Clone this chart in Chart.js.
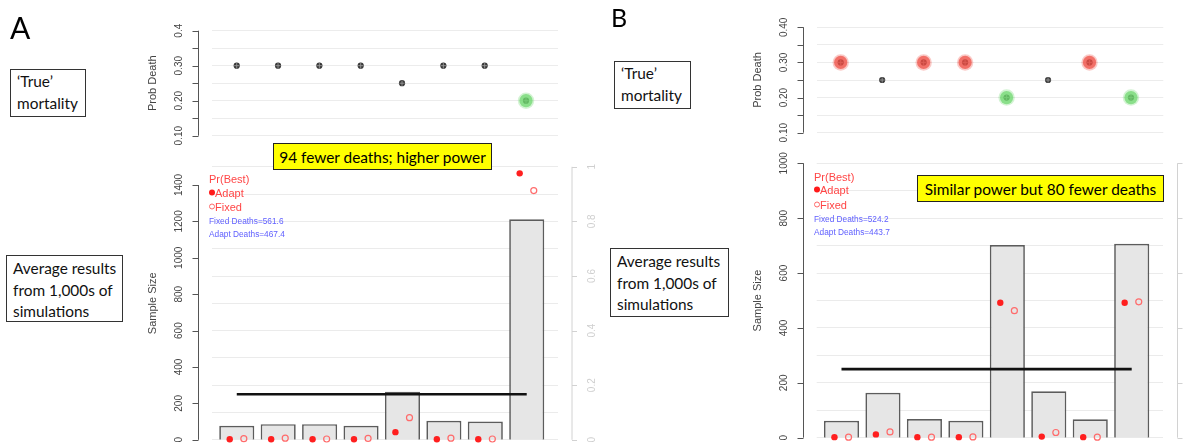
<!DOCTYPE html>
<html>
<head>
<meta charset="utf-8">
<script src="https://cdn.jsdelivr.net/npm/chart.js@4.4.1/dist/chart.umd.min.js"></script>
<style>
html,body{margin:0;padding:0;background:#fff;}
#wrap{position:relative;width:1192px;height:445px;overflow:hidden;background:#fff;}
#wrap canvas{position:absolute;left:0;top:0;}
.box{position:absolute;box-sizing:border-box;border:1px solid #333;background:#fff;font-family:Lato,'Open Sans',sans-serif;font-size:15.4px;line-height:21.7px;color:#111;padding:1px 0 0 6px;white-space:nowrap;z-index:5;}
.note{position:absolute;box-sizing:border-box;border:1px solid #222;background:#ffff00;font-family:Lato,'Open Sans',sans-serif;font-size:15.4px;color:#000;display:flex;align-items:center;justify-content:center;white-space:nowrap;z-index:5;}
.leg{position:absolute;white-space:nowrap;font-family:'Liberation Sans',Arial,sans-serif;transform:translateY(-50%);line-height:1;z-index:5;}
.pb{color:#ff4646;font-size:11px;}
.dths{color:#6060ff;font-size:8.3px;}
.dot{display:inline-block;width:6px;height:6px;border-radius:50%;background:#ff1a1a;vertical-align:middle;position:relative;top:-1px;}
.odot{display:inline-block;box-sizing:border-box;width:6px;height:6px;border-radius:50%;border:1px solid #ff6a6a;vertical-align:middle;position:relative;top:-1px;}
.panel{position:absolute;font-family:Lato,'Open Sans',sans-serif;color:#000;line-height:1;z-index:5;}
</style>
</head>
<body>
<div id="wrap">
  <canvas id="cAtop" width="1192" height="445"></canvas>
  <canvas id="cAbot" width="1192" height="445"></canvas>
  <canvas id="cBtop" width="1192" height="445"></canvas>
  <canvas id="cBbot" width="1192" height="445"></canvas>
</div>
<script>
// ---------------- data ----------------
const arms = [1, 2, 3, 4, 5, 6, 7, 8];
const probDeathA = [0.30, 0.30, 0.30, 0.30, 0.25, 0.30, 0.30, 0.20];
const highlightA = ['', '', '', '', '', '', '', 'best'];
const probDeathB = [0.30, 0.25, 0.30, 0.30, 0.20, 0.25, 0.30, 0.20];
const highlightB = ['worst', '', 'worst', 'worst', 'best', '', 'worst', 'best'];
const sampleSizeA = [77, 86, 86, 77, 264, 104, 100, 1212];
const sampleSizeB = [62, 164, 68, 62, 702, 169, 67, 707];
const prBestAdaptA = [0.002, 0.002, 0.002, 0.002, 0.028, 0.002, 0.002, 0.976];
const prBestFixedA = [0.004, 0.006, 0.003, 0.005, 0.081, 0.006, 0.003, 0.913];
const prBestAdaptB = [0.002, 0.012, 0.002, 0.002, 0.492, 0.004, 0.002, 0.492];
const prBestFixedB = [0.002, 0.021, 0.002, 0.003, 0.463, 0.019, 0.002, 0.495];
const fixedSampleSize = [250, 250];
const fixedDeaths = [561.6, 524.2];
const adaptDeaths = [467.4, 443.7];
const probTicks = [0.10, 0.15, 0.20, 0.25, 0.30, 0.35, 0.40];
const probLabelsA = ['0.10', '', '0.20', '', '0.30', '', '0.4'];
const probLabelsB = ['0.10', '', '0.20', '', '0.30', '', '0.40'];
const sampleTicksA = [0, 200, 400, 600, 800, 1000, 1200, 1400];
const sampleTicksB = [0, 200, 400, 600, 800, 1000];
const sampleMax = [1500, 1000];
const prTicks = [0, 0.2, 0.4, 0.6, 0.8, 1];
const prLabels = ['0', '0.2', '0.4', '0.6', '0.8', '1'];
const notes = ['94 fewer deaths; higher power', 'Similar power but 80 fewer deaths'];
const panelLabels = ['A', 'B'];
const boxTrue = ['\u2018True\u2019', 'mortality'];
const boxAvg = ['Average results', 'from 1,000s of', 'simulations'];

// ---------------- helpers ----------------
const W = 1192, H = 445;
function pts(vals, dx) { return vals.map((v, i) => ({ x: arms[i] + (dx || 0), y: v })); }

function rAxesPlugin(specs) {
  return {
    id: 'rAxesLocal',
    afterDraw(chart) {
      const ctx = chart.ctx;
      specs.forEach(a => {
        const s = chart.scales[a.scale];
        const dir = a.side === 'left' ? -1 : 1;
        ctx.save();
        ctx.strokeStyle = a.color;
        ctx.lineWidth = 1;
        ctx.beginPath();
        const yA = s.getPixelForValue(a.ticks[0]);
        const yB = s.getPixelForValue(a.ticks[a.ticks.length - 1]);
        ctx.moveTo(a.x, yA); ctx.lineTo(a.x, yB);
        a.ticks.forEach(v => {
          const py = Math.round(s.getPixelForValue(v)) + 0.5;
          ctx.moveTo(a.x, py); ctx.lineTo(a.x + dir * a.tickLen, py);
        });
        ctx.stroke();
        ctx.fillStyle = a.labelColor;
        ctx.font = a.font;
        ctx.textAlign = 'center';
        ctx.textBaseline = 'middle';
        a.ticks.forEach((v, i) => {
          const lab = a.labels[i];
          if (!lab) return;
          const py = s.getPixelForValue(v);
          ctx.save();
          ctx.translate(a.x + dir * a.labelOffset, py);
          ctx.rotate(-Math.PI / 2);
          ctx.fillText(lab, 0, 0);
          ctx.restore();
        });
        if (a.title) {
          const ca = chart.chartArea;
          ctx.save();
          ctx.font = a.titleFont;
          ctx.fillStyle = a.labelColor;
          ctx.translate(a.x + dir * a.titleOffset, (ca.top + ca.bottom) / 2);
          ctx.rotate(-Math.PI / 2);
          ctx.fillText(a.title, 0, 0);
          ctx.restore();
        }
        ctx.restore();
      });
    }
  };
}

const baseOpts = (pad) => ({
  responsive: false, animation: false, devicePixelRatio: 1, events: [],
  layout: { padding: pad },
  plugins: { legend: { display: false }, tooltip: { enabled: false } }
});

const hlColor = { best: [110, 215, 110], worst: [238, 78, 68] };
function hlc(hl, alpha) {
  return c => { const k = hl[c.dataIndex]; return k ? `rgba(${hlColor[k].join(',')},${alpha})` : 'rgba(0,0,0,0)'; };
}

function topChart(id, probs, hl, xr, pad, axisX, labels) {
  const o = baseOpts(pad);
  o.scales = {
    x: { type: 'linear', min: xr[0], max: xr[1], display: false },
    y: { type: 'linear', min: probTicks[0], max: probTicks[probTicks.length - 1],
         ticks: { display: false, stepSize: 0.05 }, border: { display: false },
         grid: { color: '#ececec', lineWidth: 1, drawTicks: false },
         afterFit(s) { s.width = 0; } }
  };
  return new Chart(document.getElementById(id), {
    type: 'scatter',
    data: { datasets: [
      { data: pts(probs), order: 0, clip: false, pointBorderWidth: 0,
        pointRadius: c => hl[c.dataIndex] ? 6.6 : 0, pointBackgroundColor: hlc(hl, 0.72) },
      { data: pts(probs), order: 1, clip: false, pointBorderWidth: 0,
        pointRadius: c => hl[c.dataIndex] ? 8.2 : 0, pointBackgroundColor: hlc(hl, 0.3) },
      { data: pts(probs), order: 2, pointStyle: 'cross', pointRadius: 2.6,
        pointBorderColor: '#9a9a9a', pointBorderWidth: 0.9 },
      { data: pts(probs), order: 3, pointRadius: 3.1, pointBackgroundColor: '#383838', pointBorderWidth: 0 }
    ] },
    options: o,
    plugins: [rAxesPlugin([
      { scale: 'y', x: axisX, side: 'left', ticks: probTicks, labels: labels, color: '#555',
        labelColor: '#444', tickLen: 6, labelOffset: 19, font: '10px "Liberation Sans", Arial, sans-serif',
        title: 'Prob Death', titleOffset: 46, titleFont: '11px "Liberation Sans", Arial, sans-serif' }
    ])]
  });
}

function bottomChart(id, sizes, adapt, fixed, target, ymax, xr, pad, axisX, rightX, sTicks) {
  const o = baseOpts(pad);
  o.scales = {
    x: { type: 'linear', min: xr[0], max: xr[1], display: false, offset: false },
    y: { type: 'linear', min: 0, max: ymax, display: false },
    y2: { type: 'linear', position: 'right', min: 0, max: 1,
          ticks: { display: false, stepSize: 0.1 }, border: { display: false },
          grid: { color: '#ebebeb', lineWidth: 1, drawTicks: false },
          afterFit(s) { s.width = 0; } }
  };
  return new Chart(document.getElementById(id), {
    type: 'bar',
    data: { datasets: [
      { type: 'scatter', data: pts(adapt, -0.17), yAxisID: 'y2', order: 0, clip: false,
        pointRadius: 3.2, pointBackgroundColor: '#ff1f1f', pointBorderWidth: 0 },
      { type: 'scatter', data: pts(fixed, 0.17), yAxisID: 'y2', order: 0, clip: false,
        pointRadius: 3.0, pointBackgroundColor: 'rgba(0,0,0,0)', pointBorderColor: '#ff6b6b', pointBorderWidth: 1.2 },
      { type: 'line', data: [{ x: arms[0], y: target }, { x: arms[arms.length - 1], y: target }],
        yAxisID: 'y', order: 1, borderColor: '#111', borderWidth: 2.6, pointRadius: 0 },
      { type: 'bar', data: pts(sizes), yAxisID: 'y', order: 2, backgroundColor: '#e6e6e6',
        borderColor: '#5c5c5c', borderWidth: 1.7, barPercentage: 0.847, categoryPercentage: 1 }
    ] },
    options: o,
    plugins: [rAxesPlugin([
      { scale: 'y', x: axisX, side: 'left', ticks: sTicks, labels: sTicks.map(String), color: '#555',
        labelColor: '#444', tickLen: 6, labelOffset: 19, font: '10px "Liberation Sans", Arial, sans-serif',
        title: 'Sample Size', titleOffset: 46, titleFont: '11px "Liberation Sans", Arial, sans-serif' },
      { scale: 'y2', x: rightX, side: 'right', ticks: prTicks, labels: prLabels, color: '#d2d2d2',
        labelColor: '#cfcfcf', tickLen: 5, labelOffset: 20, font: '10px "Liberation Sans", Arial, sans-serif' }
    ])]
  });
}

// ---------------- charts ----------------
topChart('cAtop', probDeathA, highlightA, [0.402, 8.774],
  { left: 212, right: W - 558, top: 30.7, bottom: H - 135.7 }, 198.5, probLabelsA);
bottomChart('cAbot', sampleSizeA, prBestAdaptA, prBestFixedA, fixedSampleSize[0], sampleMax[0], [0.402, 8.755],
  { left: 212, right: W - 558, top: 166.8, bottom: H - 440 }, 198.5, 572, sampleTicksA);
topChart('cBtop', probDeathB, highlightB, [0.421, 8.779],
  { left: 816.7, right: W - 1163.3, top: 27.3, bottom: H - 132.7 }, 803.5, probLabelsB);
bottomChart('cBbot', sampleSizeB, prBestAdaptB, prBestFixedB, fixedSampleSize[1], sampleMax[1], [0.402, 8.762],
  { left: 816.7, right: W - 1163.3, top: 163.3, bottom: H - 437.7 }, 803.5, 1177.5, sampleTicksB);

// ---------------- annotations (html text) ----------------
const wrap = document.getElementById('wrap');
function el(cls, style, html) {
  const d = document.createElement('div');
  d.className = cls; d.style.cssText = style; d.innerHTML = html;
  wrap.appendChild(d); return d;
}
// panel letters
el('panel', 'left:10px;top:12px;font-size:30px;', panelLabels[0]);
el('panel', 'left:611px;top:5px;font-size:25px;', panelLabels[1]);
// side boxes
el('box', 'left:10px;top:69px;width:76px;height:48px;', boxTrue.join('<br>'));
el('box', 'left:6px;top:255px;width:117px;height:67px;padding-top:2px;', boxAvg.join('<br>'));
el('box', 'left:614px;top:61px;width:77px;height:48px;', boxTrue.join('<br>'));
el('box', 'left:610px;top:248px;width:119px;height:69px;padding-top:2px;', boxAvg.join('<br>'));
// yellow notes
el('note', 'left:273px;top:143px;width:219px;height:27px;', notes[0]);
el('note', 'left:917px;top:175px;width:247px;height:27px;', notes[1]);
// legends inside bottom panels
function legend(x, ys, i) {
  el('leg pb', `left:${x}px;top:${ys[0]}px;`, 'Pr(Best)');
  el('leg pb', `left:${x}px;top:${ys[1]}px;`, '<span class="dot"></span>Adapt');
  el('leg pb', `left:${x}px;top:${ys[2]}px;`, '<span class="odot"></span>Fixed');
  el('leg dths', `left:${x}px;top:${ys[3]}px;`, 'Fixed Deaths=' + fixedDeaths[i].toFixed(1));
  el('leg dths', `left:${x}px;top:${ys[4]}px;`, 'Adapt Deaths=' + adaptDeaths[i].toFixed(1));
}
legend(209, [179, 193, 207, 221, 234], 0);
legend(814, [177, 190, 205, 219, 231.7], 1);
</script>
</body>
</html>
